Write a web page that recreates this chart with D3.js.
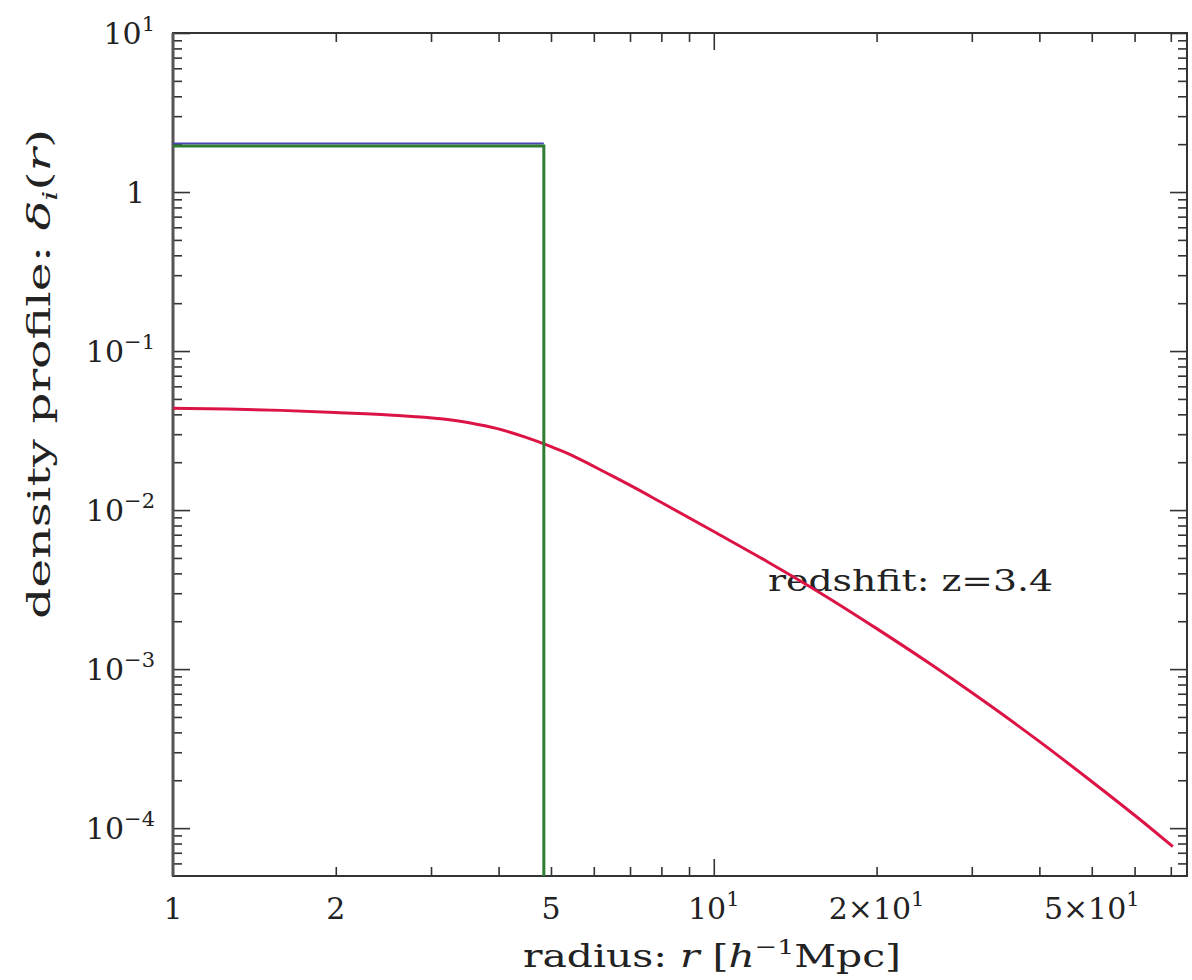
<!DOCTYPE html>
<html>
<head>
<meta charset="utf-8">
<script src="https://cdn.jsdelivr.net/npm/d3@7"></script>
<style>
  body { margin: 0; background: #fff; }
  svg { display: block; }
  text { font-family: "DejaVu Serif", serif; fill: #222; }
</style>
</head>
<body>
<svg></svg>
<script>
// smoothed profile (red)
const radius = [1, 1.259, 1.585, 1.995, 2.512, 3.162, 3.548, 3.981, 4.467, 4.853, 5.248, 5.623,
    6.31, 7.079, 7.943, 10, 12.59, 15.85, 19.95, 25.12, 31.62, 39.81, 50.12, 63.1, 70.6];
const delta = [0.04365, 0.04315, 0.04236, 0.04111, 0.03963, 0.03733, 0.03532, 0.03251, 0.02884,
    0.02606, 0.02344, 0.02109, 0.01722, 0.01403, 0.01132, 0.00733, 0.00472, 0.00297, 0.00181,
    0.00108, 0.000627, 0.000355, 0.000195, 0.000105, 0.0000766];

// top-hat profiles (blue, green)
const hatR = [1, 4.85, 4.85];
const blueDelta = [2.02, 2.02];
const greenDelta = [1.95, 1.95, 1e-6];

const xLabels = [[1, '1', ''], [2, '2', ''], [5, '5', ''], [10, '10', '1'], [20, '2×10', '1'], [50, '5×10', '1']];
const yLabels = [[1e-4, '10', '−4'], [1e-3, '10', '−3'], [1e-2, '10', '−2'], [1e-1, '10', '−1'], [1, '1', ''], [10, '10', '1']];

const svgWidth = 1192;
const svgHeight = 980;
const margin = { top: 33, right: 5, bottom: 104, left: 173 };
const width = svgWidth - margin.left - margin.right;
const height = svgHeight - margin.top - margin.bottom;

const svg = d3.select('svg')
    .attr('width', svgWidth)
    .attr('height', svgHeight);

const g = svg.append('g')
    .attr('transform', `translate(${margin.left}, ${margin.top})`);

const xScale = d3.scaleLog().domain([1, 75]).range([0, width]);
const yScale = d3.scaleLog().domain([5e-5, 10]).range([height, 0]);

// tick values: decades are major, the rest minor
const xMinor = [], yMinor = [];
for (let e = 0; e <= 1; e++) for (let m = 2; m <= 9; m++) {
    const v = m * Math.pow(10, e);
    if (v < 75) xMinor.push(v);
}
for (let e = -5; e <= 0; e++) for (let m = 2; m <= 9; m++) {
    const v = m * Math.pow(10, e);
    if (v > 5e-5) yMinor.push(v);
}
const xMajor = [10];
const yMajor = [1e-4, 1e-3, 1e-2, 1e-1, 1, 10];

const tickCol = '#333';
function styleAxis(sel) {
    sel.select('.domain').remove();
    sel.selectAll('.tick line').attr('stroke', tickCol).attr('stroke-width', 1.6);
}

g.append('g').attr('transform', `translate(0,${height})`)
    .call(d3.axisBottom(xScale).tickValues(xMinor).tickSize(-9).tickFormat('')).call(styleAxis);
g.append('g').attr('transform', `translate(0,${height})`)
    .call(d3.axisBottom(xScale).tickValues(xMajor).tickSize(-17).tickFormat('')).call(styleAxis);
g.append('g')
    .call(d3.axisTop(xScale).tickValues(xMinor).tickSize(-9).tickFormat('')).call(styleAxis);
g.append('g')
    .call(d3.axisTop(xScale).tickValues(xMajor).tickSize(-17).tickFormat('')).call(styleAxis);
g.append('g')
    .call(d3.axisLeft(yScale).tickValues(yMinor).tickSize(-9).tickFormat('')).call(styleAxis);
g.append('g')
    .call(d3.axisLeft(yScale).tickValues(yMajor).tickSize(-17).tickFormat('')).call(styleAxis);
g.append('g').attr('transform', `translate(${width},0)`)
    .call(d3.axisRight(yScale).tickValues(yMinor).tickSize(-9).tickFormat('')).call(styleAxis);
g.append('g').attr('transform', `translate(${width},0)`)
    .call(d3.axisRight(yScale).tickValues(yMajor).tickSize(-17).tickFormat('')).call(styleAxis);

// frame
g.append('rect')
    .attr('width', width).attr('height', height)
    .attr('fill', 'none').attr('stroke', '#333').attr('stroke-width', 2);
g.append('line')
    .attr('y2', height)
    .attr('stroke', '#555').attr('stroke-width', 3);

// tick labels with superscripts
const xl = g.selectAll('.xlab').data(xLabels).enter().append('text')
    .attr('class', 'xlab')
    .attr('x', d => xScale(d[0]))
    .attr('y', height + 43)
    .attr('text-anchor', 'middle')
    .attr('font-size', '30px');
xl.append('tspan').text(d => d[1]);
xl.append('tspan').attr('dy', -13).attr('font-size', '21px').text(d => d[2]);

const yl = g.selectAll('.ylab').data(yLabels).enter().append('text')
    .attr('class', 'ylab')
    .attr('x', d => d[2] ? -18 : -28)
    .attr('y', d => yScale(d[0]) + 11)
    .attr('text-anchor', 'end')
    .attr('font-size', '30px');
yl.append('tspan').text(d => d[1]);
yl.append('tspan').attr('dy', -13).attr('font-size', '21px').text(d => d[2]);

// axis titles
const xt = svg.append('text')
    .attr('x', 712).attr('y', 967)
    .attr('text-anchor', 'middle')
    .attr('font-size', '32px')
    .attr('textLength', 378)
    .attr('lengthAdjust', 'spacingAndGlyphs');
xt.append('tspan').text('radius: ');
xt.append('tspan').attr('font-style', 'italic').text('r');
xt.append('tspan').text(' [');
xt.append('tspan').attr('font-style', 'italic').text('h');
xt.append('tspan').attr('dy', -13).attr('font-size', '21px').text('−1');
xt.append('tspan').attr('dy', 13).text('Mpc]');

const yt = svg.append('text')
    .attr('transform', 'translate(50, 374) rotate(-90)')
    .attr('text-anchor', 'middle')
    .attr('font-size', '32px')
    .attr('textLength', 490)
    .attr('lengthAdjust', 'spacingAndGlyphs');
yt.append('tspan').text('density profile: ');
yt.append('tspan').attr('font-style', 'italic').text('δ');
yt.append('tspan').attr('dy', 7).attr('font-size', '21px').attr('font-style', 'italic').text('i');
yt.append('tspan').attr('dy', -7).text('(');
yt.append('tspan').attr('font-style', 'italic').text('r');
yt.append('tspan').text(')');

g.append('text')
    .attr('x', xScale(12.6))
    .attr('y', yScale(0.0035) + 8)
    .attr('font-size', '29px')
    .attr('textLength', 285)
    .attr('lengthAdjust', 'spacingAndGlyphs')
    .text('redshfit:  z=3.4');

// curves
g.append('clipPath').attr('id', 'clip')
    .append('rect').attr('width', width).attr('height', height);

const plot = g.append('g').attr('clip-path', 'url(#clip)');

const line = d3.line()
    .x(d => xScale(d[0]))
    .y(d => yScale(d[1]));

plot.append('path')
    .datum(hatR.slice(0, 2).map((r, i) => [r, blueDelta[i]]))
    .attr('d', line)
    .attr('fill', 'none')
    .attr('stroke', '#4646b4')
    .attr('stroke-width', 2);

plot.append('path')
    .datum(radius.map((r, i) => [r, delta[i]]))
    .attr('d', line.curve(d3.curveMonotoneX))
    .attr('fill', 'none')
    .attr('stroke', '#dc1446')
    .attr('stroke-width', 3);

plot.append('path')
    .datum(hatR.map((r, i) => [r, greenDelta[i]]))
    .attr('d', line.curve(d3.curveLinear))
    .attr('fill', 'none')
    .attr('stroke', '#2e7d32')
    .attr('stroke-width', 3);
</script>
</body>
</html>
